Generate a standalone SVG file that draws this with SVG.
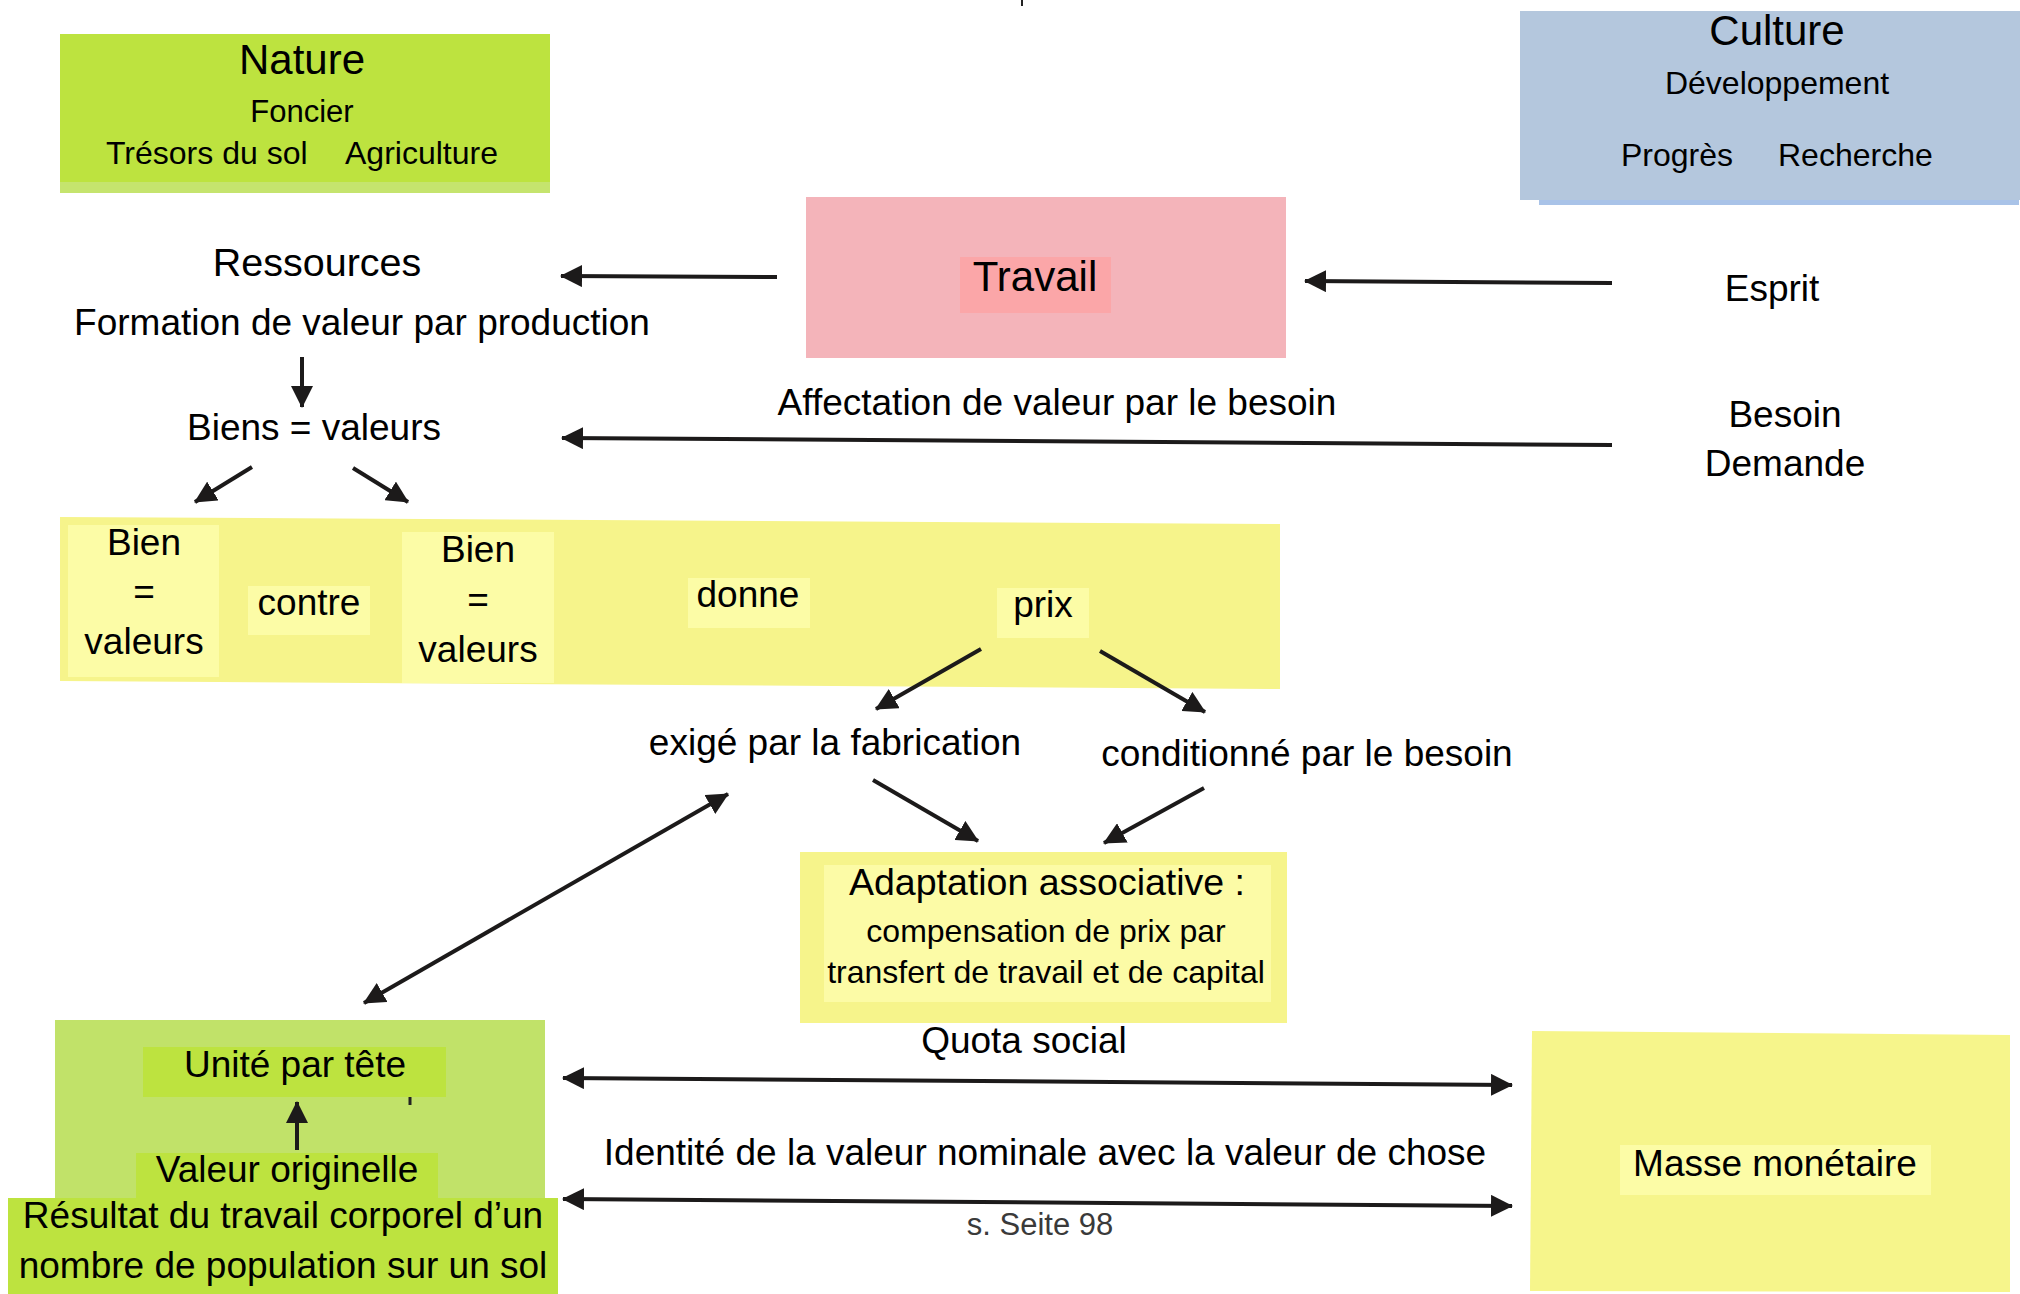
<svg xmlns="http://www.w3.org/2000/svg" width="2020" height="1294" viewBox="0 0 2020 1294">
<defs>
<marker id="ah" markerUnits="userSpaceOnUse" markerWidth="22" markerHeight="22" refX="21" refY="11" orient="auto-start-reverse">
<path d="M0,0 L22,11 L0,22 z" fill="#1c1a1a"/>
</marker>
<style>
text{font-family:"Liberation Sans",Arial,Helvetica,sans-serif;fill:#000;}
.m{text-anchor:middle;}
.f42{font-size:42px;}
.f37{font-size:37px;}
.f32{font-size:32px;}
.conn line{stroke:#1c1a1a;stroke-width:4;fill:none;}
.a{marker-end:url(#ah);}
.d{marker-start:url(#ah);marker-end:url(#ah);}
.lime{fill:#bde33f;}
.yel{fill:#f6f48b;}
.ylt{fill:#fcfca6;}
</style>
</defs>
<rect width="2020" height="1294" fill="#fff"/>

<g id="nature">
<rect x="60" y="34" width="490" height="148" class="lime"/>
<rect x="60" y="182" width="490" height="11" fill="#c5e46e"/>
<text x="302" y="74" class="m f42">Nature</text>
<text x="302" y="122" class="m" font-size="31">Foncier</text>
<text x="106" y="164" class="f32">Trésors du sol</text>
<text x="345" y="164" class="f32">Agriculture</text>
</g>

<g id="culture">
<rect x="1520" y="11" width="500" height="189" fill="#b4c7dd"/>
<rect x="1539" y="200" width="480" height="5" fill="#a9c3e8"/>
<text x="1777" y="45" class="m f42">Culture</text>
<text x="1777" y="94" class="m f32">Développement</text>
<text x="1621" y="166" class="f32">Progrès</text>
<text x="1778" y="166" class="f32">Recherche</text>
</g>

<g id="ressources">
<text x="317" y="276" class="m" font-size="39.5">Ressources</text>
<text x="362" y="335" class="m f37">Formation de valeur par production</text>
</g>

<g id="biens">
<text x="314" y="440" class="m f37">Biens = valeurs</text>
</g>

<g id="travail">
<rect x="806" y="197" width="480" height="161" fill="#f4b4ba"/>
<rect x="960" y="257" width="151" height="56" fill="#fba6a8"/>
<text x="1035" y="291" class="m f42">Travail</text>
</g>

<g id="esprit">
<text x="1772" y="301" class="m f37">Esprit</text>
</g>

<g id="besoin">
<text x="1785" y="427" class="m f37">Besoin</text>
<text x="1785" y="476" class="m f37">Demande</text>
</g>

<g id="affectation">
<text x="1057" y="415" class="m f37">Affectation de valeur par le besoin</text>
</g>

<g id="echange">
<polygon points="60,517 1280,524 1280,689 60,681" class="yel"/>
<rect x="68" y="525" width="151" height="152" class="ylt"/>
<text x="144" y="555" class="m f37">Bien</text>
<text x="144" y="604" class="m f37">=</text>
<text x="144" y="654" class="m f37">valeurs</text>
<rect x="248" y="586" width="122" height="49" class="ylt"/>
<text x="309" y="615" class="m f37">contre</text>
<rect x="402" y="532" width="152" height="151" class="ylt"/>
<text x="478" y="562" class="m f37">Bien</text>
<text x="478" y="612" class="m f37">=</text>
<text x="478" y="662" class="m f37">valeurs</text>
<rect x="688" y="578" width="122" height="50" class="ylt"/>
<text x="748" y="607" class="m f37">donne</text>
<rect x="997" y="588" width="92" height="50" class="ylt"/>
<text x="1043" y="617" class="m f37">prix</text>
</g>

<g id="exige">
<text x="835" y="755" class="m f37">exigé par la fabrication</text>
</g>

<g id="conditionne">
<text x="1307" y="766" class="m f37">conditionné par le besoin</text>
</g>

<g id="adaptation">
<rect x="800" y="852" width="487" height="171" class="yel"/>
<rect x="824" y="865" width="447" height="137" fill="#fcfba6"/>
<text x="1047" y="895" class="m" font-size="37.5">Adaptation associative :</text>
<text x="1046" y="942" class="m f32">compensation de prix par</text>
<text x="1046" y="983" class="m f32">transfert de travail et de capital</text>
</g>

<g id="unite">
<rect x="55" y="1020" width="490" height="230" fill="#c1e269"/>
<rect x="143" y="1047" width="303" height="50" class="lime"/>
<text x="295" y="1077" class="m f37">Unité par tête</text>
<line x1="410" y1="1097" x2="410" y2="1105" stroke="#222" stroke-width="3"/>
<rect x="136" y="1153" width="302" height="47" class="lime"/>
<text x="287" y="1182" class="m f37">Valeur originelle</text>
<rect x="8" y="1198" width="550" height="96" class="lime"/>
<text x="283" y="1228" class="m f37">Résultat du travail corporel d’un</text>
<text x="283" y="1278" class="m f37">nombre de population sur un sol</text>
</g>

<g id="masse">
<polygon points="1532,1031 2010,1035 2010,1292 1530,1291" fill="#f6f58b"/>
<rect x="1620" y="1145" width="311" height="50" class="ylt"/>
<text x="1775" y="1176" class="m f37">Masse monétaire</text>
</g>

<g id="labels">
<text x="1024" y="1053" class="m f37">Quota social</text>
<text x="1045" y="1165" class="m f37">Identité de la valeur nominale avec la valeur de chose</text>
<text x="1040" y="1235" class="m" font-size="31" style="fill:#3a3a3a">s. Seite 98</text>
<line x1="1022" y1="0" x2="1022" y2="6" stroke="#222" stroke-width="2"/>
</g>

<g id="connectors" class="conn">
<line x1="777" y1="277" x2="561" y2="276" class="a"/>
<line x1="1612" y1="445" x2="562" y2="438" class="a"/>
<line x1="1612" y1="283" x2="1305" y2="281" class="a"/>
<line x1="302" y1="357" x2="302" y2="407" class="a"/>
<line x1="252" y1="467" x2="195" y2="502" class="a"/>
<line x1="353" y1="468" x2="408" y2="502" class="a"/>
<line x1="981" y1="649" x2="876" y2="709" class="a"/>
<line x1="1100" y1="651" x2="1205" y2="712" class="a"/>
<line x1="873" y1="780" x2="978" y2="841" class="a"/>
<line x1="1204" y1="788" x2="1104" y2="843" class="a"/>
<line x1="728" y1="794" x2="364" y2="1003" class="d"/>
<line x1="563" y1="1078" x2="1512" y2="1085" class="d"/>
<line x1="563" y1="1199" x2="1512" y2="1206" class="d"/>
<line x1="297" y1="1150" x2="297" y2="1102" class="a"/>
</g>
</svg>
